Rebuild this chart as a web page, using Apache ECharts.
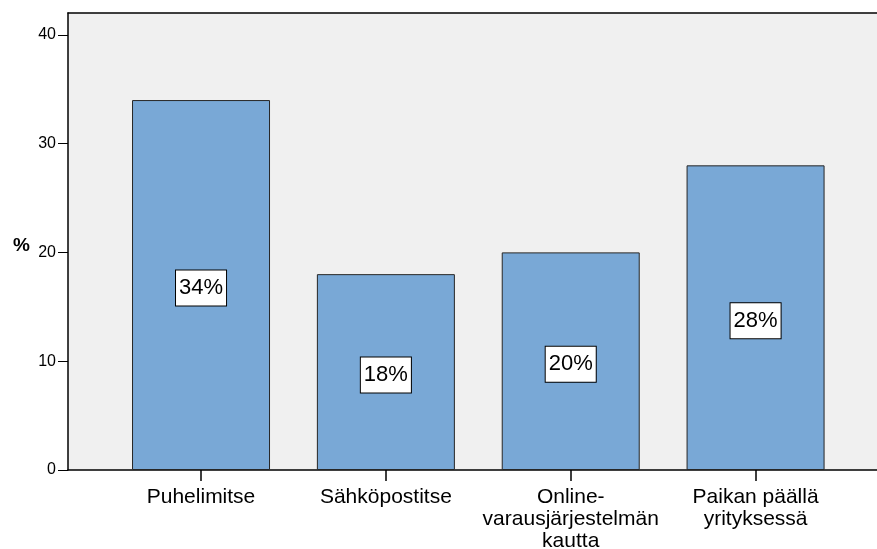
<!DOCTYPE html>
<html>
<head>
<meta charset="utf-8">
<script src="https://cdn.jsdelivr.net/npm/echarts@6/dist/echarts.min.js"></script>
<style>
  html, body { margin: 0; padding: 0; background: #fff; }
  #chart { width: 877px; height: 549px; }
</style>
</head>
<body>
<div id="chart"></div>
<script>
// categories and values
var categories = ["Puhelimitse", "Sähköpostitse", "Online-\nvarausjärjestelmän\nkautta", "Paikan päällä\nyrityksessä"];
var percents = [34, 18, 20, 28];
var yTicks = [0, 10, 20, 30, 40];

var chart = echarts.init(document.getElementById("chart"));

var font = "Liberation Sans, Arial, sans-serif";

var option = {
  animation: false,
  textStyle: { fontFamily: font },
  grid: [
    // frame / background with the y axis
    { left: 68, top: 13, right: 0, bottom: 79, show: true, backgroundColor: "#f0f0f0", borderWidth: 0, outerBoundsMode: "none" },
    // bars
    { left: 108.6, top: 13, right: 29, bottom: 79, outerBoundsMode: "none" }
  ],
  graphic: [
    { type: "text", left: 13, top: 236, style: { text: "%", fontSize: 19, fontWeight: "bold", fill: "#000", fontFamily: font } }
  ],
  xAxis: [
    {
      // bottom axis line
      gridIndex: 0, type: "value", min: 0, max: 1, position: "bottom",
      axisLine: { show: true, onZero: false, lineStyle: { color: "#000", width: 1.5 } },
      axisTick: { show: false }, axisLabel: { show: false }, splitLine: { show: false }
    },
    {
      // top frame line
      gridIndex: 0, type: "value", min: 0, max: 1, position: "top",
      axisLine: { show: true, onZero: false, lineStyle: { color: "#000", width: 1.5 } },
      axisTick: { show: false }, axisLabel: { show: false }, splitLine: { show: false }
    },
    {
      gridIndex: 1,
      type: "category",
      data: categories,
      axisLine: { show: false },
      axisTick: { show: true, alignWithLabel: true, length: 11, lineStyle: { color: "#000", width: 1.5 } },
      axisLabel: { color: "#000", fontSize: 21, lineHeight: 22, margin: 16, interval: 0 }
    }
  ],
  yAxis: [
    {
      gridIndex: 0,
      type: "value",
      min: 0,
      max: 42,
      interval: 10,
      splitLine: { show: false },
      axisLine: { show: true, lineStyle: { color: "#000", width: 1.5 } },
      axisTick: { show: true, length: 10, customValues: yTicks, lineStyle: { color: "#000", width: 1 } },
      axisLabel: { color: "#000", fontSize: 16, margin: 12, customValues: yTicks }
    },
    { gridIndex: 1, type: "value", min: 0, max: 42, show: false }
  ],
  series: [
    {
      type: "bar",
      xAxisIndex: 2, yAxisIndex: 1,
      data: percents,
      barWidth: 138,
      itemStyle: { color: "#79a8d6", borderColor: "#262626", borderWidth: 1 },
      label: {
        show: true,
        position: "inside",
        offset: [0, 3],
        formatter: "{c}%",
        color: "#000",
        fontSize: 22,
        backgroundColor: "#fff",
        borderColor: "#000",
        borderWidth: 1,
        padding: [7, 3, 6, 3]
      }
    }
  ]
};

chart.setOption(option);
</script>
</body>
</html>
